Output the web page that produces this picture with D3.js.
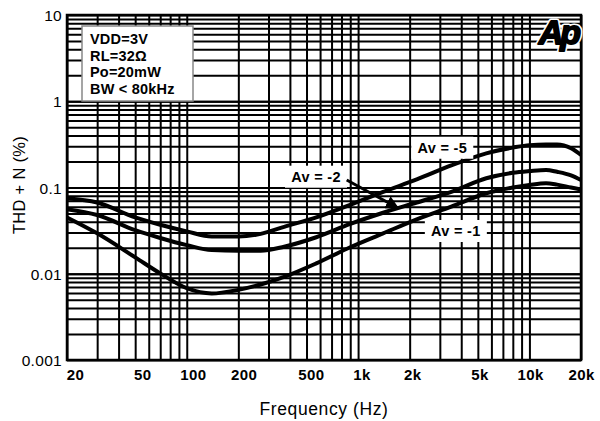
<!DOCTYPE html>
<html>
<head>
<meta charset="utf-8">
<script src="https://d3js.org/d3.v7.min.js"></script>
<style>
  body { margin: 0; background: #fff; }
  text { font-family: "Liberation Sans", Arial, sans-serif; }
</style>
</head>
<body>
<div id="chart"></div>
<script>
// frequencies (Hz) sampled along all three curves
var freqs = [20, 30, 50, 70, 100, 140, 200, 270, 370, 570, 900, 1400, 2200, 3500, 5600, 8000, 10000, 12500, 14500, 17500, 20000];
// THD+N (%)
var av5 = [0.075, 0.067, 0.045, 0.037, 0.031, 0.027, 0.027, 0.029, 0.035, 0.045, 0.063, 0.089, 0.124, 0.18, 0.249, 0.29, 0.31, 0.315, 0.315, 0.285, 0.238];
var av2 = [0.056, 0.048, 0.032, 0.026, 0.0215, 0.0188, 0.0185, 0.0185, 0.0206, 0.0265, 0.0378, 0.051, 0.067, 0.089, 0.128, 0.148, 0.155, 0.16, 0.152, 0.138, 0.122];
var av1 = [0.045, 0.0294, 0.0155, 0.0101, 0.0068, 0.0059, 0.0065, 0.0075, 0.0092, 0.0132, 0.0203, 0.0294, 0.0428, 0.06, 0.0857, 0.1, 0.107, 0.112, 0.108, 0.1, 0.095];

var xTickValues = [20, 50, 100, 200, 500, 1000, 2000, 5000, 10000, 20000];
var xTickLabels = ["20", "50", "100", "200", "500", "1k", "2k", "5k", "10k", "20k"];
var yTickValues = [0.001, 0.01, 0.1, 1, 10];
var yTickLabels = ["0.001", "0.01", "0.1", "1", "10"];

var conditions = ["VDD=3V", "RL=32\u03A9", "Po=20mW", "BW < 80kHz"];

// curve labels: [text, freq, value]
var labels = [["Av = -5", 3100, 0.289], ["Av = -2", 568, 0.1334], ["Av = -1", 3720, 0.0313]];
// arrow from the "Av = -2" label onto its curve: [f0, v0, f1, v1]
var arrow = [858, 0.122, 1710, 0.0578];

var W = 600, H = 421;
var margin = {top: 15, right: 19, bottom: 61, left: 67},
    width = W - margin.left - margin.right,
    height = H - margin.top - margin.bottom;

var svg = d3.select("#chart")
    .append("svg")
    .attr("width", W)
    .attr("height", H);

var g = svg.append("g")
    .attr("transform", "translate(" + margin.left + "," + margin.top + ")");

var x = d3.scaleLog().domain([20, 20000]).range([0, width]);
var y = d3.scaleLog().domain([0.001, 10]).range([height, 0]);

// minor grid values: 1..9 per decade
var xGrid = [], yGrid = [];
[10, 100, 1000, 10000].forEach(function(d) {
    for (var k = 1; k < 10; k++) {
        var v = d * k;
        if (v >= 20 && v <= 20000) xGrid.push(v);
    }
});
[0.001, 0.01, 0.1, 1].forEach(function(d) {
    for (var k = 1; k <= 10; k++) yGrid.push(+(d * k).toPrecision(3));
});

// grid through axes
g.append("g")
    .attr("class", "grid")
    .attr("transform", "translate(0," + height + ")")
    .call(d3.axisBottom(x).tickValues(xGrid).tickSize(-height).tickFormat(""))
    .call(function(s) { s.select(".domain").remove(); });

g.append("g")
    .attr("class", "grid")
    .call(d3.axisLeft(y).tickValues(yGrid).tickSize(-width).tickFormat(""))
    .call(function(s) { s.select(".domain").remove(); });

g.selectAll(".grid line")
    .attr("stroke", "#000")
    .attr("stroke-width", 2);

// frame
g.append("rect")
    .attr("x", 0).attr("y", 0)
    .attr("width", width).attr("height", height)
    .attr("fill", "none")
    .attr("stroke", "#000")
    .attr("stroke-width", 2.5);

// tick labels
var xAxis = g.append("g")
    .attr("transform", "translate(0," + height + ")")
    .call(d3.axisBottom(x).tickValues(xTickValues).tickSize(0).tickPadding(0)
        .tickFormat(function(d, i) { return xTickLabels[i]; }));
xAxis.select(".domain").remove();
xAxis.selectAll("text")
    .attr("y", 19.5)
    .attr("dy", 0)
    .attr("dx", function(d) { return 8 - 8 * x(d) / width; })
    .attr("fill", "#000")
    .style("font-size", "15px")
    .style("letter-spacing", "0.4px")
    .style("font-weight", "bold")
    .style("font-family", "'Liberation Sans', Arial, sans-serif");

var yAxis = g.append("g")
    .call(d3.axisLeft(y).tickValues(yTickValues).tickSize(0).tickPadding(5)
        .tickFormat(function(d, i) { return yTickLabels[i]; }));
yAxis.select(".domain").remove();
yAxis.selectAll("text")
    .attr("dy", "0.36em")
    .attr("fill", "#000")
    .style("font-size", "15.5px")
    .style("letter-spacing", "0.3px")
    .style("font-family", "'Liberation Sans', Arial, sans-serif");

// curves
var line = d3.line()
    .x(function(d, i) { return x(freqs[i]); })
    .y(function(d) { return y(d); })
    .curve(d3.curveMonotoneX);

[av5, av2, av1].forEach(function(series) {
    g.append("path")
        .datum(series)
        .attr("d", line)
        .attr("fill", "none")
        .attr("stroke", "#000")
        .attr("stroke-width", 4)
        .attr("stroke-linejoin", "round");
});

// curve labels with white backing
labels.forEach(function(l) {
    var cx = x(l[1]), cy = y(l[2]);
    g.append("rect")
        .attr("x", cx - 31).attr("y", cy - 11)
        .attr("width", 62).attr("height", 22)
        .attr("fill", "#fff");
    g.append("text")
        .attr("x", cx).attr("y", cy)
        .attr("dy", "0.36em")
        .attr("text-anchor", "middle")
        .style("font-size", "14.5px")
        .style("letter-spacing", "0.3px")
        .style("font-weight", "bold")
        .text(l[0]);
});

// arrow
svg.append("defs").append("marker")
    .attr("id", "head")
    .attr("viewBox", "0 0 10 10")
    .attr("refX", 9).attr("refY", 5)
    .attr("markerWidth", 4.5).attr("markerHeight", 4.5)
    .attr("orient", "auto")
    .append("path")
    .attr("d", "M0,0L10,5L0,10z")
    .attr("fill", "#000");

g.append("line")
    .attr("x1", x(arrow[0])).attr("y1", y(arrow[1]))
    .attr("x2", x(arrow[2])).attr("y2", y(arrow[3]))
    .attr("stroke", "#000")
    .attr("stroke-width", 3)
    .attr("marker-end", "url(#head)");

// conditions box
var box = g.append("g").attr("transform", "translate(15,11)");
box.append("rect")
    .attr("width", 111).attr("height", 75)
    .attr("fill", "#fff")
    .attr("stroke", "#888")
    .attr("stroke-width", 1.5);
box.selectAll("text")
    .data(conditions)
    .enter()
    .append("text")
    .attr("x", 8)
    .attr("y", function(d, i) { return 18 + i * 16.7; })
    .style("font-size", "14.5px")
    .style("letter-spacing", "0.2px")
    .style("font-weight", "bold")
    .text(function(d) { return d; });

// Ap logo: white halo, then heavy black glyphs
[["#fff", 5], ["#000", 1.8]].forEach(function(s) {
    g.append("text")
        .attr("x", width - 3).attr("y", 29)
        .attr("text-anchor", "end")
        .style("font-size", "34px")
        .style("font-weight", "bold")
        .style("font-style", "italic")
        .style("letter-spacing", "-3px")
        .attr("fill", "#000")
        .attr("stroke", s[0])
        .attr("stroke-width", s[1])
        .attr("stroke-linejoin", "round")
        .attr("paint-order", "stroke")
        .text("Ap");
});

// axis titles
svg.append("text")
    .attr("x", 324)
    .attr("y", 415)
    .attr("text-anchor", "middle")
    .style("font-size", "17.5px")
    .style("letter-spacing", "0.6px")
    .text("Frequency (Hz)");

svg.append("text")
    .attr("transform", "translate(25,185) rotate(-90)")
    .attr("text-anchor", "middle")
    .style("font-size", "16.5px")
    .style("letter-spacing", "0.3px")
    .text("THD + N (%)");
</script>
</body>
</html>
